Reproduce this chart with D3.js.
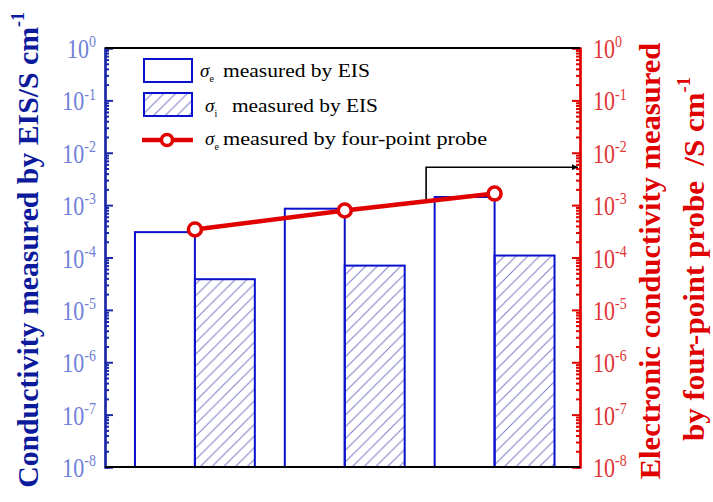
<!DOCTYPE html>
<html><head><meta charset="utf-8">
<script src="https://cdn.jsdelivr.net/npm/d3@7"></script>
<style>body{margin:0;background:#fff}svg{display:block}</style>
</head><body>
<svg id="chart" width="713" height="502"></svg>
<script>
// ---- data ----
const categories = ["Sample 1", "Sample 2", "Sample 3"];
const sigmaE_EIS = [3.05e-4, 8.55e-4, 1.43e-3];
const sigmaI_EIS = [3.85e-5, 7.0e-5, 1.09e-4];
const sigmaE_probe = [3.43e-4, 7.9e-4, 1.66e-3];
const tickExponents = [0, -1, -2, -3, -4, -5, -6, -7, -8];
const legendTexts = ["measured by EIS", "measured by EIS", "measured by four-point probe"];
const legendSubs = ["e", "i", "e"];
const leftTitle = ["Conductivity measured by EIS/S cm", "-1"];
const rightTitle1 = "Electronic conductivity measured";
const rightTitle2 = ["by four-point probe \u00A0/S cm", "-1"];
const arrowFrom = 1.543;   // category position where the guide leaves the line
const arrowValue = 5.3e-3; // level of the guide

// ---- layout ----
const L = 105, R = 580, T = 48, B = 467;
const FONT = '"Liberation Serif"';
const svg = d3.select("#chart");
const x = d3.scaleLinear().domain([-0.6, 2.57]).range([L, R]);
const y = d3.scaleLog().domain([1e-8, 1]).range([B, T]);
const barW = x(0.4) - x(0);
const BLUE = "#0a10cc", AXBLUE = "#1a28a8", RED = "#e00000";

const defs = svg.append("defs");
const pat = defs.append("pattern").attr("id", "hatch").attr("patternUnits", "userSpaceOnUse")
  .attr("width", 11.7).attr("height", 11.7);
pat.append("path").attr("d", "M0,11.7 L11.7,0 M-3,3 L3,-3 M8.7,14.7 L14.7,8.7")
  .attr("stroke", "#7c7cc4").attr("stroke-width", 1);
defs.append("marker").attr("id", "arr").attr("viewBox", "0 0 10 10").attr("refX", 10).attr("refY", 5)
  .attr("markerWidth", 9).attr("markerHeight", 6).attr("markerUnits", "userSpaceOnUse").attr("orient", "auto")
  .append("path").attr("d", "M0,0 L10,5 L0,10 Z").attr("fill", "#000");

// ---- bars ----
const idx = categories.map((c, i) => i);
svg.append("g").selectAll("rect").data(idx).join("rect")
  .attr("x", i => x(i) - barW).attr("width", barW)
  .attr("y", i => y(sigmaE_EIS[i])).attr("height", i => y(1e-8) - y(sigmaE_EIS[i]))
  .attr("fill", "#fff").attr("stroke", BLUE).attr("stroke-width", 2);
svg.append("g").selectAll("rect").data(idx).join("rect")
  .attr("x", i => x(i)).attr("width", barW)
  .attr("y", i => y(sigmaI_EIS[i])).attr("height", i => y(1e-8) - y(sigmaI_EIS[i]))
  .attr("fill", "url(#hatch)").attr("stroke", BLUE).attr("stroke-width", 2);

// ---- arrow guide ----
const lo = Math.log10(sigmaE_probe[1]), hi = Math.log10(sigmaE_probe[2]);
const startVal = Math.pow(10, lo + (arrowFrom - 1) * (hi - lo));
svg.append("path")
  .attr("d", `M${x(arrowFrom)},${y(startVal)} V${y(arrowValue)} H${R - 2}`)
  .attr("fill", "none").attr("stroke", "#000").attr("stroke-width", 1.6)
  .attr("marker-end", "url(#arr)");

// ---- line ----
svg.append("path").datum(idx)
  .attr("d", d3.line().x(i => x(i)).y(i => y(sigmaE_probe[i])))
  .attr("fill", "none").attr("stroke", RED).attr("stroke-width", 4.5);
svg.append("g").selectAll("circle").data(idx).join("circle")
  .attr("cx", i => x(i)).attr("cy", i => y(sigmaE_probe[i])).attr("r", 6.5)
  .attr("fill", "#fff").attr("stroke", RED).attr("stroke-width", 3.5);

// ---- axes ----
const majors = tickExponents.map(e => Math.pow(10, e));
const minors = y.ticks().filter(v => !majors.some(m => Math.abs(Math.log10(v) - Math.log10(m)) < 1e-6));
function axis(gen, xpos, color) {
  const g1 = svg.append("g").attr("transform", `translate(${xpos},0)`)
    .call(gen(y).tickValues(minors).tickSize(-4).tickFormat(""));
  const g2 = svg.append("g").attr("transform", `translate(${xpos},0)`)
    .call(gen(y).tickValues(majors).tickSize(-8).tickFormat(""));
  [g1, g2].forEach(g => {
    g.selectAll("line").attr("stroke", color).attr("stroke-width", 2);
    g.select(".domain").attr("stroke", color).attr("stroke-width", 2.2);
  });
}
axis(d3.axisLeft, L, AXBLUE);
axis(d3.axisRight, R, RED);

// frame top and bottom
svg.append("line").attr("x1", L).attr("x2", R).attr("y1", T).attr("y2", T).attr("stroke", "#000").attr("stroke-width", 2.2);
svg.append("line").attr("x1", L).attr("x2", R).attr("y1", B).attr("y2", B).attr("stroke", "#000").attr("stroke-width", 2.2);

// tick labels
function tickLabel(anchorX, anchor, e, color) {
  const g = svg.append("g").attr("transform", `translate(${anchorX},${y(Math.pow(10, e)) + 10}) scale(1,1.2)`);
  const t = g.append("text").attr("text-anchor", anchor).style("font-family", FONT)
    .attr("font-size", 22).attr("fill", color);
  t.append("tspan").text("10");
  t.append("tspan").attr("font-size", 14).attr("dy", -9).text(String(e));
}
tickExponents.forEach(e => {
  tickLabel(96, "end", e, "#6f80da");
  tickLabel(593, "start", e, "#e03535");
});

// ---- titles ----
function title(parts, cx, cy, len, color) {
  const g = svg.append("g");
  const t = g.append("text").attr("text-anchor", "middle").style("font-family", FONT)
    .attr("font-weight", "bold").attr("font-size", 30).attr("fill", color);
  t.append("tspan").text(parts[0]);
  if (parts[1]) t.append("tspan").attr("font-size", 18).attr("dy", -14).text(parts[1]);
  const w = t.node().getBBox().width;
  g.attr("transform", `translate(${cx},${cy}) rotate(-90) scale(${len / w},1)`);
}
title(leftTitle, 38, 250, 476, "#0c1a9c");
title([rightTitle1], 660, 261, 437, RED);
title(rightTitle2, 704, 259, 364, RED);

// ---- legend ----
const lg = svg.append("g");
lg.append("rect").attr("x", 144).attr("y", 59).attr("width", 48).attr("height", 23)
  .attr("fill", "#fff").attr("stroke", BLUE).attr("stroke-width", 2);
lg.append("rect").attr("x", 144).attr("y", 93).attr("width", 48).attr("height", 23)
  .attr("fill", "url(#hatch)").attr("stroke", BLUE).attr("stroke-width", 2);
lg.append("line").attr("x1", 142).attr("x2", 193).attr("y1", 140).attr("y2", 140)
  .attr("stroke", RED).attr("stroke-width", 4.5);
lg.append("circle").attr("cx", 167).attr("cy", 140).attr("r", 5.5)
  .attr("fill", "#fff").attr("stroke", RED).attr("stroke-width", 3.5);
const sigX = [200, 205, 205], txtX = [223, 232, 223], txtLen = [147, 146, 264], base = [77, 112, 145];
legendTexts.forEach((s, i) => {
  const sg = lg.append("text").attr("x", sigX[i]).attr("y", base[i]).style("font-family", FONT)
    .attr("font-size", 19).attr("fill", "#000");
  sg.append("tspan").attr("font-style", "italic").text("\u03C3");
  sg.append("tspan").attr("font-size", 10).attr("dy", 5).text(legendSubs[i]);
  lg.append("text").attr("x", txtX[i]).attr("y", base[i]).style("font-family", FONT)
    .attr("font-size", 18).attr("fill", "#000")
    .attr("textLength", txtLen[i]).attr("lengthAdjust", "spacingAndGlyphs").text(s);
});
</script>
</body></html>
